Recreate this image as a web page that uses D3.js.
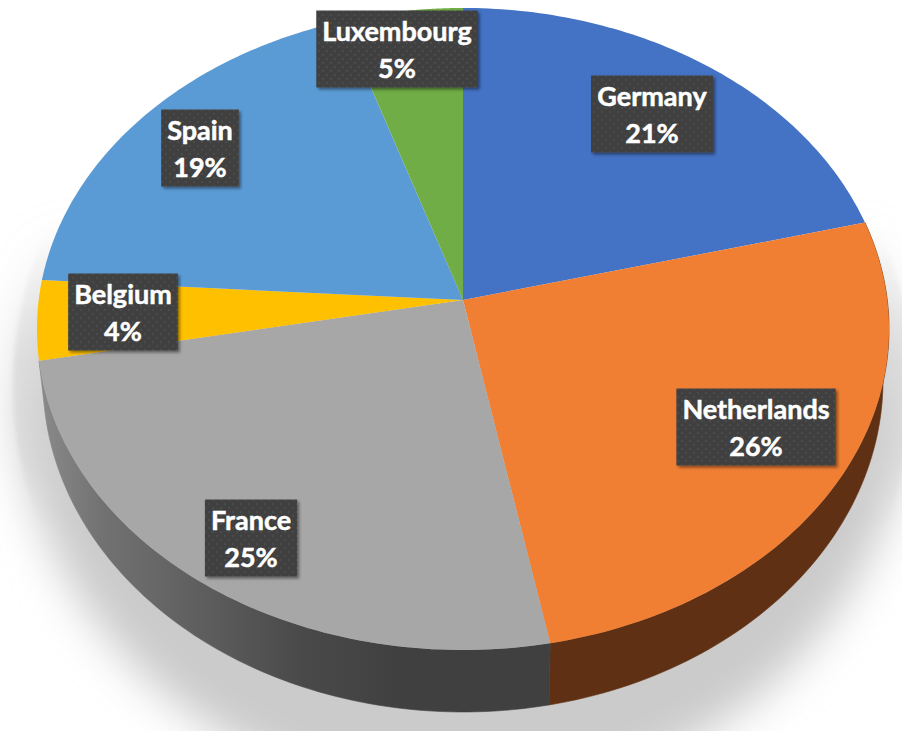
<!DOCTYPE html>
<html>
<head>
<meta charset="utf-8">
<style>
  html,body{margin:0;padding:0;background:#fff;}
  svg{display:block;}
</style>
<script src="https://cdn.jsdelivr.net/npm/d3@7"></script>
</head>
<body>
<div id="chart"></div>
<script>
// tilted 3D pie, values clockwise from 12 o'clock
const countries = ['Germany','Netherlands','France','Belgium','Spain','Luxembourg'];
const shares = [21,26,25,4,19,5];
const colors = ['#4472c4','#f07f33','#a7a7a7','#ffc000','#5b9bd5','#70ad47'];
const wallColors = [null,'#5f3013','url(#wallGrad)',null,null,null];  // only the front slices show a wall

// label box centres
const labelAt = {
  Germany:[652,114], Netherlands:[756,427], France:[251,538],
  Belgium:[123,312], Spain:[200,148], Luxembourg:[397,49]
};

const W = 902, H = 731;
const cx = 463, tilt = -0.0903;   // tilt = perspective foreshortening
const topRing = {a:424.3, b:318.4, y0:300};
const baseRing = {a:418.3, b:329.3, y0:350};

// unit circle point -> screen, simple projective map
function project(ring, angle) {
  const u = Math.sin(angle), v = -Math.cos(angle), w = 1 + tilt*v;
  return [cx + ring.a*u/w, ring.y0 + ring.b*v/w];
}
function arcPts(ring, a0, a1) {
  return d3.range(0, 81).map(i => project(ring, a0 + (a1-a0)*i/80));
}

const line = d3.line();
const arcs = d3.pie().sort(null).value((d,i) => shares[i])(countries);

const svg = d3.select('#chart').append('svg').attr('width',W).attr('height',H);
const defs = svg.append('defs');

const grad = defs.append('linearGradient').attr('id','wallGrad')
  .attr('gradientUnits','userSpaceOnUse').attr('x1',40).attr('x2',400).attr('y1',0).attr('y2',0);
[[0,'#8a8a8a'],[0.17,'#727272'],[0.45,'#5e5e5e'],[0.72,'#4a4a4a'],[1,'#404040']].forEach(s =>
  grad.append('stop').attr('offset',s[0]).attr('stop-color',s[1]));

// shadow fades out towards the top of the pie
const shadowGrad = defs.append('linearGradient').attr('id','shadowGrad')
  .attr('gradientUnits','userSpaceOnUse').attr('x1',0).attr('x2',0).attr('y1',230).attr('y2',420);
shadowGrad.append('stop').attr('offset',0).attr('stop-color','#cbcbcb').attr('stop-opacity',0);
shadowGrad.append('stop').attr('offset',1).attr('stop-color','#cbcbcb').attr('stop-opacity',1);

// harder edge only along the upper flanks
const edgeGrad = defs.append('linearGradient').attr('id','edgeGrad')
  .attr('gradientUnits','userSpaceOnUse').attr('x1',0).attr('x2',0).attr('y1',230).attr('y2',530);
[[0,0],[0.45,0.55],[0.75,0.5],[1,0]].forEach(s =>
  edgeGrad.append('stop').attr('offset',s[0]).attr('stop-color','#d2d2d2').attr('stop-opacity',s[1]));

defs.append('filter').attr('id','softShadow').attr('x','-20%').attr('y','-20%').attr('width','140%').attr('height','140%')
  .append('feGaussianBlur').attr('stdDeviation',22);
defs.append('filter').attr('id','edgeBlur').attr('x','-20%').attr('y','-20%').attr('width','140%').attr('height','140%')
  .append('feGaussianBlur').attr('stdDeviation',2);

const boxShadow = defs.append('filter').attr('id','boxShadow').attr('x','-10%').attr('y','-10%').attr('width','125%').attr('height','125%');
boxShadow.append('feDropShadow').attr('dx',2).attr('dy',2).attr('stdDeviation',1.6)
  .attr('flood-color','#000').attr('flood-opacity',0.45);

const dots = defs.append('pattern').attr('id','dots').attr('patternUnits','userSpaceOnUse')
  .attr('width',8).attr('height',8);
dots.append('rect').attr('width',8).attr('height',8).attr('fill','#404040');
dots.append('circle').attr('cx',2).attr('cy',2).attr('r',1).attr('fill','#4f4f4f');
dots.append('circle').attr('cx',6).attr('cy',6).attr('r',1).attr('fill','#4f4f4f');

// shadow on the floor
svg.append('ellipse')
  .attr('cx',cx).attr('cy',385).attr('rx',447).attr('ry',415)
  .attr('fill','url(#shadowGrad)')
  .attr('filter','url(#softShadow)');
svg.append('ellipse')
  .attr('cx',cx).attr('cy',385).attr('rx',450).attr('ry',410)
  .attr('fill','url(#edgeGrad)')
  .attr('filter','url(#edgeBlur)');

// walls first, the top face hides what is behind
svg.append('g').selectAll('path').data(arcs.filter(d => wallColors[d.index])).join('path')
  .attr('d', d => line(arcPts(topRing,d.startAngle,d.endAngle)
    .concat(arcPts(baseRing,d.startAngle,d.endAngle).reverse())) + 'Z')
  .attr('fill', d => wallColors[d.index])
  .attr('stroke', d => wallColors[d.index]).attr('stroke-width',0.6);

// top face
svg.append('g').selectAll('path').data(arcs).join('path')
  .attr('d', d => line([[cx,topRing.y0]].concat(arcPts(topRing,d.startAngle,d.endAngle))) + 'Z')
  .attr('fill', d => colors[d.index]);

// data labels
const labels = svg.append('g').selectAll('g').data(arcs).join('g')
  .attr('transform', d => `translate(${labelAt[d.data][0]},${labelAt[d.data][1]})`);

labels.append('rect').attr('fill','url(#dots)').attr('filter','url(#boxShadow)');

const txt = labels.append('text')
  .attr('text-anchor','middle')
  .style('font-family','Lato,sans-serif').style('font-weight','700').style('font-size','27px')
  .style('fill','#fff').style('stroke','#fff').style('stroke-width','0.5px');
txt.append('tspan').attr('x',0).attr('y',-8).text(d => d.data);
txt.append('tspan').attr('x',0).attr('y',29).text(d => shares[d.index] + '%');

// box hugs the text
labels.each(function() {
  const t = d3.select(this).select('text').node().getBBox();
  const w = t.width + 12, h = 77;
  d3.select(this).select('rect')
    .attr('x',-w/2).attr('y',-h/2).attr('width',w).attr('height',h);
});
</script>
</body>
</html>
